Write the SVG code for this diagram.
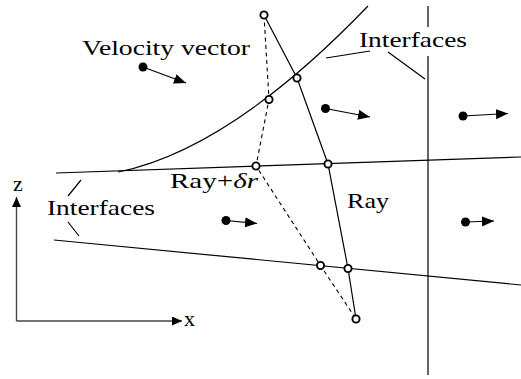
<svg xmlns="http://www.w3.org/2000/svg" width="521" height="379" viewBox="0 0 521 379">
<style>
.ln{fill:none;stroke:#000;stroke-width:1.2}
.ax{fill:none;stroke:#444;stroke-width:1.4}
.dash{fill:none;stroke:#000;stroke-width:1.1;stroke-dasharray:4,3.5}
.pt{fill:#fff;stroke:#000;stroke-width:1.9}
.dot{fill:#000}
.vec{fill:none;stroke:#000;stroke-width:1.2;marker-end:url(#ah)}
text{font-family:'Liberation Serif','Times New Roman','DejaVu Serif',serif;font-size:22px;fill:#000}
</style>
<defs>
<marker id="ah" markerUnits="userSpaceOnUse" markerWidth="13" markerHeight="11" refX="12" refY="5" orient="auto">
<path d="M0,0 L12,5 L0,10 z" fill="#000"/>
</marker>
<marker id="axh" markerUnits="userSpaceOnUse" markerWidth="12" markerHeight="10" refX="10" refY="4.5" orient="auto">
<path d="M0,0 L10,4.5 L0,9 z" fill="#000"/>
</marker>
</defs>
<g id="interfaces">
<path class="ln" d="M56,173 L521,157"/>
<path class="ln" d="M118,172 Q230,149.5 368,6"/>
<path class="ln" d="M54,240 L521,285"/>
<path class="ln" d="M428,6 L428,27 M428,56 L428,375"/>
</g>
<g id="leaders">
<path class="ln" d="M326,58 L370,51 M388,52 L425,79"/>
<path class="ln" d="M68,196 L81,180 M68,222 L79,236"/>
</g>
<g id="rays">
<path class="ln" d="M264,15 L297,78 L328,164 L348,268.5 L356,319"/>
<path class="dash" d="M264,15 L269,99.5 L256,166 L320.5,265.5 L356,319"/>
</g>
<g id="points">
<circle class="pt" cx="264" cy="15" r="3.6"/>
<circle class="pt" cx="297" cy="78" r="3.6"/>
<circle class="pt" cx="269" cy="99.5" r="3.6"/>
<circle class="pt" cx="256" cy="166" r="3.6"/>
<circle class="pt" cx="328" cy="164" r="3.6"/>
<circle class="pt" cx="320.5" cy="265.5" r="3.6"/>
<circle class="pt" cx="348" cy="268.5" r="3.6"/>
<circle class="pt" cx="356" cy="319" r="3.6"/>
</g>
<g id="velocities">
<circle class="dot" cx="143" cy="67" r="4.5"/>
<path class="vec" d="M143,67 L186,83"/>
<circle class="dot" cx="325.5" cy="108.5" r="4.5"/>
<path class="vec" d="M325.5,108.5 L370,117"/>
<circle class="dot" cx="463" cy="116" r="4.5"/>
<path class="vec" d="M463,116 L508,113.5"/>
<circle class="dot" cx="226" cy="220.5" r="4.5"/>
<path class="vec" d="M226,220.5 L257,223.5"/>
<circle class="dot" cx="465.5" cy="222" r="4.5"/>
<path class="vec" d="M465.5,222 L494,221"/>
</g>
<g id="axes">
<path class="ax" d="M16.5,321 L16.5,197" marker-end="url(#axh)"/>
<path class="ax" d="M16.5,321 L182,321" marker-end="url(#axh)"/>
<text x="13" y="191" font-size="17">z</text>
<text x="184" y="326">x</text>
</g>
<g id="labels">
<text x="82" y="55" textLength="168" lengthAdjust="spacingAndGlyphs">Velocity vector</text>
<text x="359" y="47" textLength="108" lengthAdjust="spacingAndGlyphs">Interfaces</text>
<text x="47" y="215" textLength="108" lengthAdjust="spacingAndGlyphs">Interfaces</text>
<text x="170" y="188" textLength="88" lengthAdjust="spacingAndGlyphs">Ray+<tspan font-style="italic">δr</tspan></text>
<text x="347" y="208" textLength="42" lengthAdjust="spacingAndGlyphs">Ray</text>
</g>
</svg>
